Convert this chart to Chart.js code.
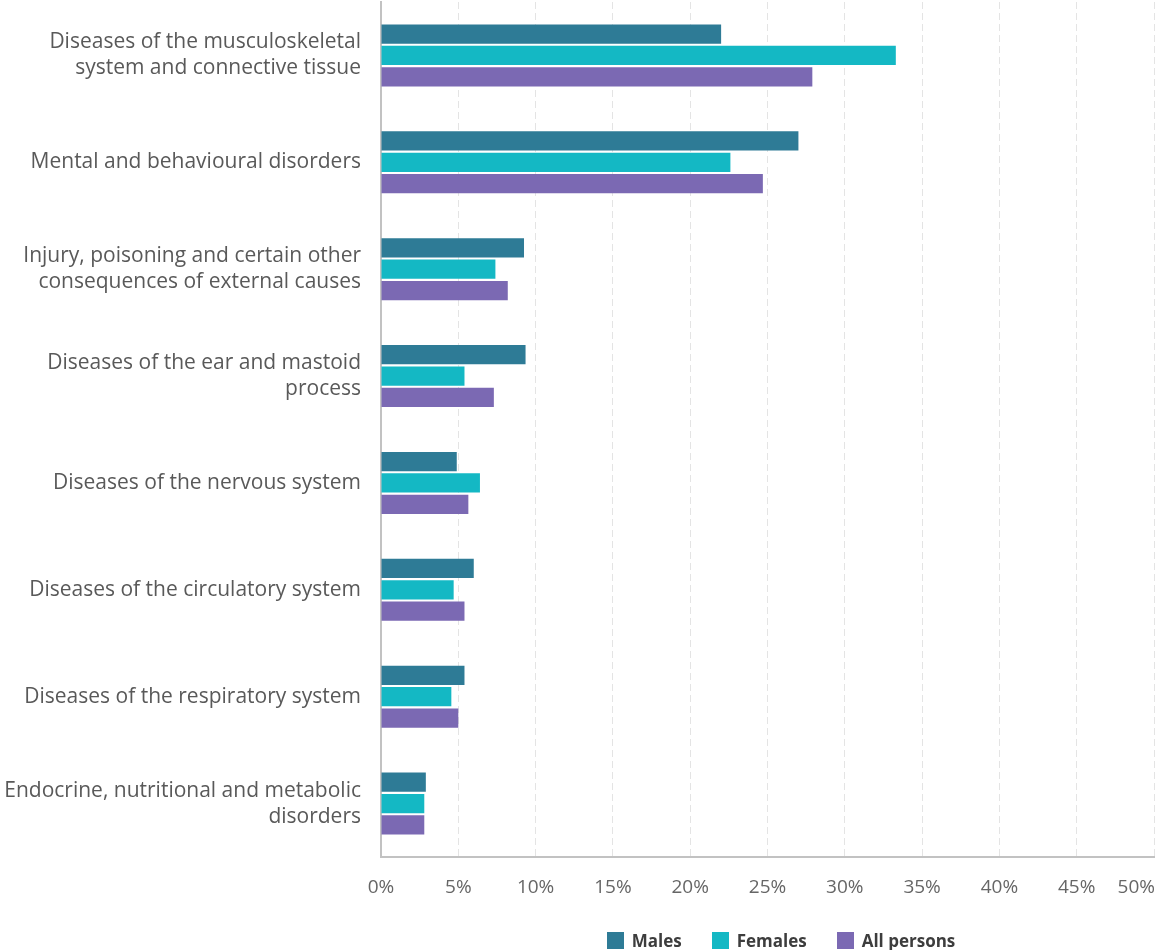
<!DOCTYPE html>
<html>
<head>
<meta charset="utf-8">
<script src="https://cdn.jsdelivr.net/npm/chart.js@4/dist/chart.umd.min.js"></script>
<style>
    html, body { margin: 0; padding: 0; background: #fff; overflow: hidden; }
    #wrap { position: relative; width: 1158px; height: 950px; }
    #legend {
        position: absolute; left: 404px; right: 0; top: 929px;
        display: flex; justify-content: center; align-items: center; gap: 30px;
        font-family: "Open Sans", sans-serif; font-weight: 700; font-size: 17px; color: #3d3d3d;
    }
    #legend span.item { display: flex; align-items: center; }
    #legend span.box { display: inline-block; width: 17px; height: 17px; margin-right: 8px; }
</style>
</head>
<body>
<div id="wrap">
    <canvas id="causeChart" width="1158" height="950"></canvas>
    <div id="legend"></div>
</div>
<script>
// labels + values (% of people, by main condition)
const categories = [
    ['Diseases of the musculoskeletal', 'system and connective tissue'],
    'Mental and behavioural disorders',
    ['Injury, poisoning and certain other', 'consequences of external causes'],
    ['Diseases of the ear and mastoid', 'process'],
    'Diseases of the nervous system',
    'Diseases of the circulatory system',
    'Diseases of the respiratory system',
    ['Endocrine, nutritional and metabolic', 'disorders']
];
const seriesNames = ['Males', 'Females', 'All persons'];
const seriesColors = ['#2e7b96', '#14b8c4', '#7b69b3'];
const males      = [22.0, 27.0, 9.25, 9.35, 4.9, 6.0, 5.4, 2.9];
const females    = [33.3, 22.6, 7.4, 5.4, 6.4, 4.7, 4.55, 2.8];
const allPersons = [27.9, 24.7, 8.2, 7.3, 5.65, 5.4, 5.0, 2.8];
const tickValues = [0, 5, 10, 15, 20, 25, 30, 35, 40, 45, 50];

const seriesValues = [males, females, allPersons];

// x tick labels drawn by hand so the last one can sit flush with the right edge
const xLabelsPlugin = {
    id: 'xLabels',
    afterDraw(chart) {
        const ctx = chart.ctx;
        const xs = chart.scales.x;
        ctx.save();
        ctx.font = '19px "Open Sans", sans-serif';
        ctx.fillStyle = '#666';
        ctx.textBaseline = 'middle';
        tickValues.forEach((v, i) => {
            const px = xs.getPixelForValue(v);
            const last = i === tickValues.length - 1;
            ctx.textAlign = last ? 'right' : 'center';
            ctx.fillText(v + '%', last ? px + 1 : px, 888);
        });
        ctx.restore();
    }
};

const ctx = document.getElementById('causeChart').getContext('2d');
const chart = new Chart(ctx, {
    type: 'bar',
    data: {
        labels: categories,
        datasets: seriesNames.map((name, i) => ({
            label: name,
            data: seriesValues[i],
            backgroundColor: seriesColors[i],
            borderWidth: 0,
            categoryPercentage: 0.6,
            barPercentage: 0.9
        }))
    },
    options: {
        indexAxis: 'y',
        responsive: false,
        animation: false,
        layout: { padding: { top: 2, right: 4, left: 0, bottom: 0 } },
        plugins: {
            legend: { display: false },
            tooltip: { enabled: false }
        },
        scales: {
            x: {
                min: 0,
                max: 50,
                afterBuildTicks(scale) {
                    scale.ticks = tickValues.map(v => ({ value: v }));
                },
                afterFit(scale) { scale.height = 93; },
                ticks: { display: false },
                grid: { color: '#e4e4e4', lineWidth: 1, drawTicks: false },
                border: { display: true, color: '#c2c2c2', width: 2, dash: [7, 4] }
            },
            y: {
                afterFit(scale) {
                    scale.width = 381;
                    scale.paddingTop = 0;
                    scale.paddingBottom = 0;
                },
                grid: { display: false, drawTicks: false },
                border: { display: true, color: '#c2c2c2', width: 2 },
                ticks: {
                    padding: 20,
                    color: '#595959',
                    font: { family: '"Open Sans", sans-serif', size: 21, lineHeight: 1.24 }
                }
            }
        }
    },
    plugins: [xLabelsPlugin]
});

// legend below the plot
const legend = document.getElementById('legend');
seriesNames.forEach((name, i) => {
    const item = document.createElement('span');
    item.className = 'item';
    item.innerHTML = `<span class="box" style="background:${seriesColors[i]}"></span>${name}`;
    legend.appendChild(item);
});
</script>
</body>
</html>
